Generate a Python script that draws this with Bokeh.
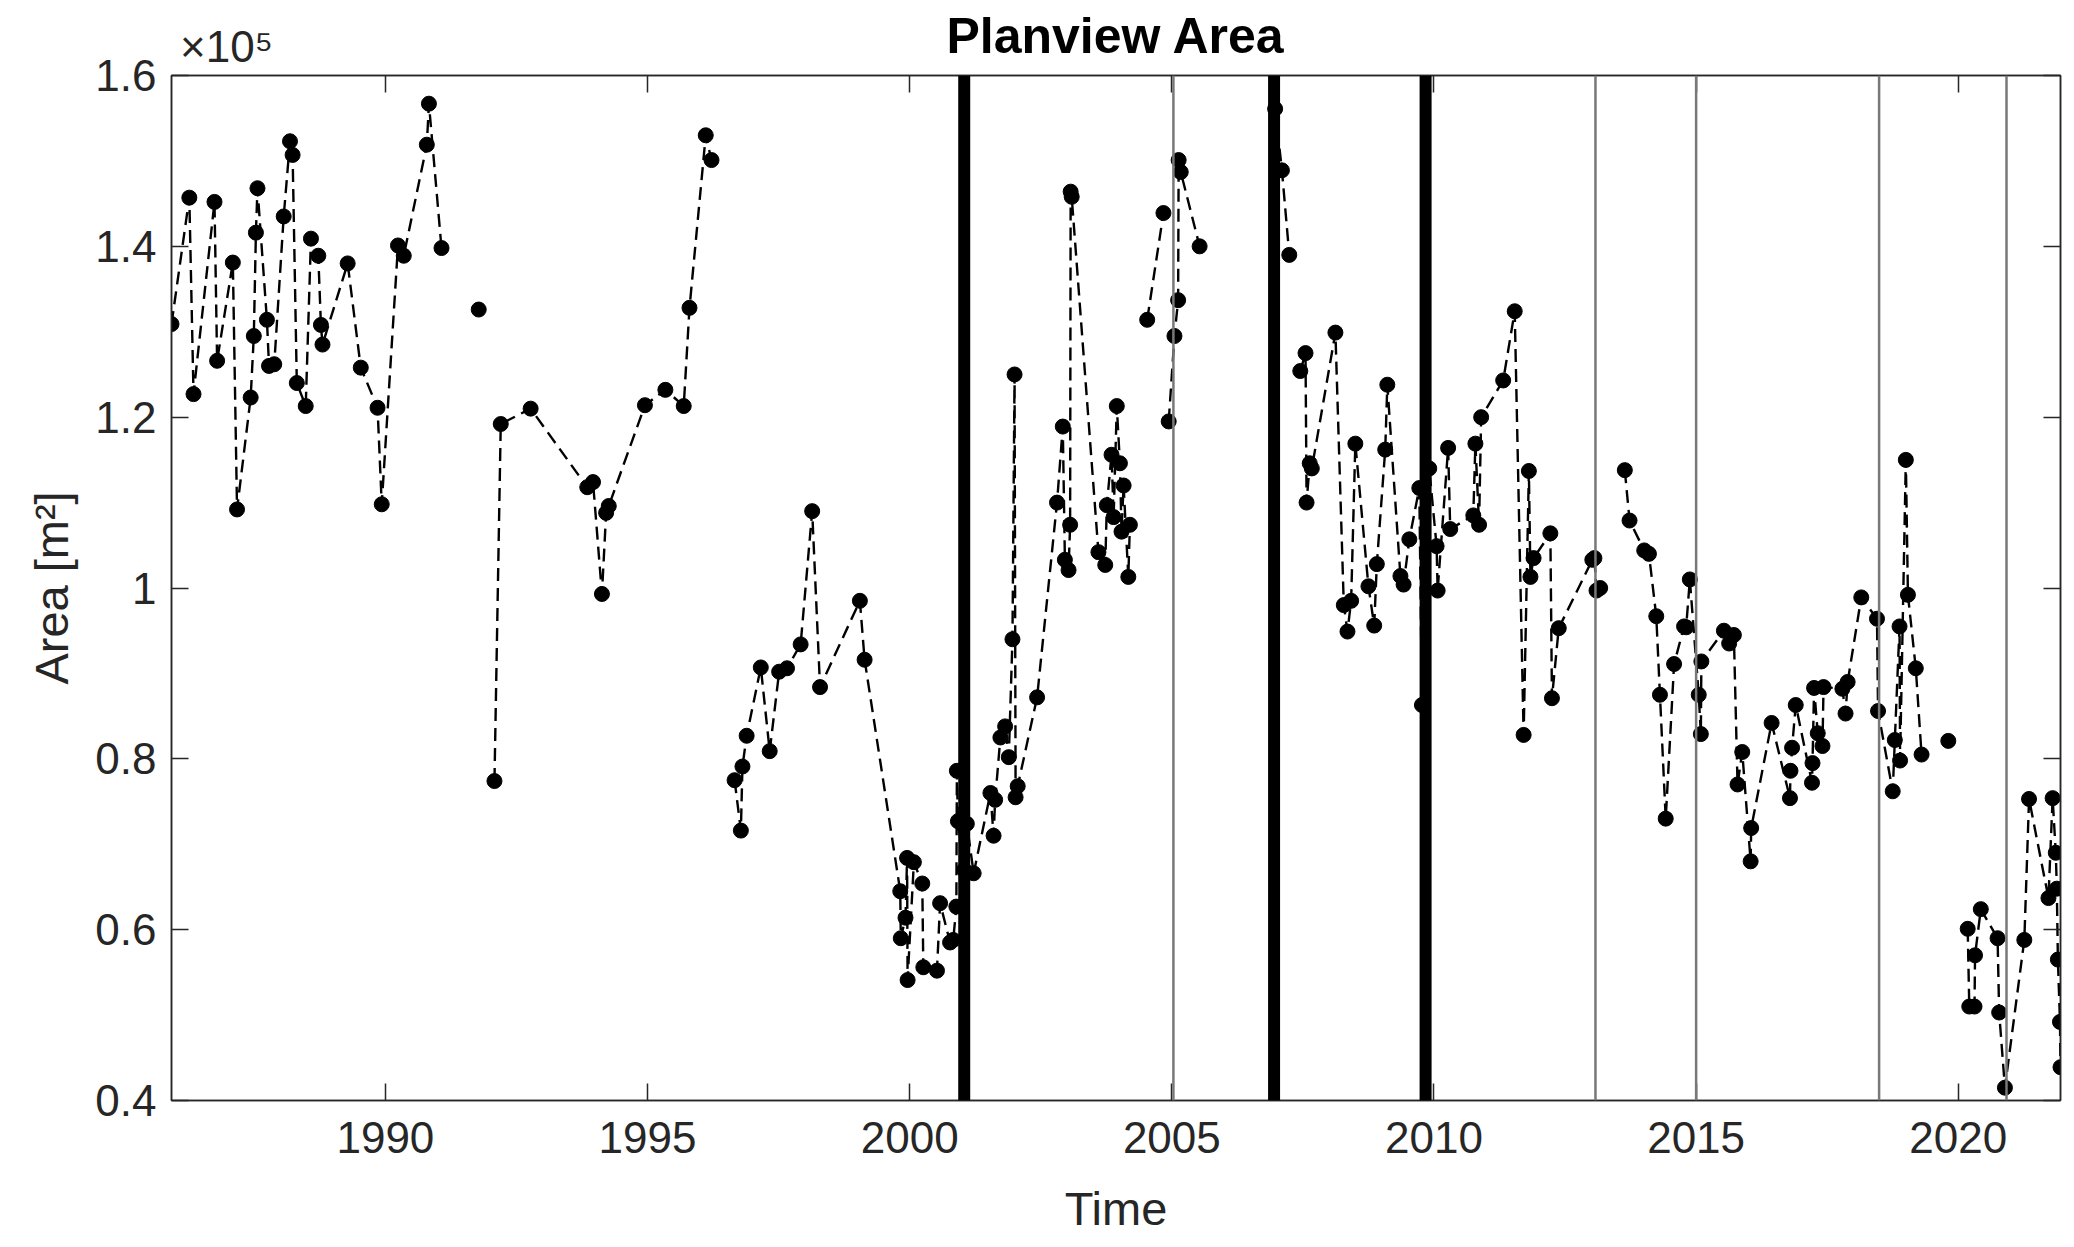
import math
from bokeh.plotting import figure
from bokeh.models import (Range1d, FixedTicker, LinearAxis, Span,
                          CustomJSTickFormatter)
from bokeh.embed import file_html
from bokeh.resources import INLINE

# ---------------- data ----------------
# survey time (decimal year) and planview area (x 1e5 m^2)
time = [
    1985.92, 1986.26, 1986.34, 1986.74, 1986.79, 1987.09, 1987.17, 1987.43, 1987.49, 1987.53,
    1987.56, 1987.74, 1987.78, 1987.88, 1988.06, 1988.18, 1988.23, 1988.31, 1988.48, 1988.58,
    1988.72, 1988.77, 1988.80, 1989.28, 1989.53, 1989.85, 1989.93, 1990.24, 1990.35, 1990.79,
    1990.83, 1991.07,
    1991.78,
    1992.08, 1992.20, 1992.77, 1993.85, 1993.96, 1994.13, 1994.21, 1994.26, 1994.95, 1995.34,
    1995.69, 1995.80, 1996.11, 1996.22,
    1996.66, 1996.78, 1996.81, 1996.89, 1997.16, 1997.33, 1997.51, 1997.66, 1997.92, 1998.14,
    1998.29, 1999.05, 1999.14, 1999.82, 1999.83, 1999.92, 1999.95, 1999.96, 2000.08, 2000.24,
    2000.26, 2000.52, 2000.58, 2000.77, 2000.83, 2000.89, 2000.90, 2000.92, 2001.04, 2001.09,
    2001.22, 2001.54, 2001.60, 2001.63, 2001.73, 2001.82, 2001.89, 2001.96, 2002.00, 2002.02,
    2002.06, 2002.43, 2002.81, 2002.92, 2002.96, 2003.03, 2003.06, 2003.07, 2003.09, 2003.60,
    2003.73, 2003.76, 2003.85, 2003.89, 2003.95, 2004.01, 2004.04, 2004.08, 2004.17, 2004.20,
    2004.53, 2004.84,
    2004.94, 2005.05, 2005.12, 2005.13, 2005.17, 2005.53,
    2006.97, 2007.10, 2007.24,
    2007.45, 2007.55, 2007.57, 2007.63, 2007.67, 2008.12, 2008.28, 2008.35, 2008.42, 2008.50,
    2008.75, 2008.86, 2008.91, 2009.07, 2009.11, 2009.36, 2009.42, 2009.53, 2009.72, 2009.77,
    2009.91, 2010.05, 2010.07, 2010.27, 2010.31, 2010.75, 2010.79, 2010.86, 2010.90, 2011.32,
    2011.54, 2011.71, 2011.81, 2011.84, 2011.90, 2012.22, 2012.25, 2012.38, 2013.02, 2013.06,
    2013.10, 2013.17,
    2013.64, 2013.73, 2014.01, 2014.10, 2014.24, 2014.31, 2014.42, 2014.58, 2014.77, 2014.81,
    2014.88, 2015.05, 2015.09, 2015.10, 2015.53, 2015.63, 2015.72, 2015.79, 2015.88, 2016.04,
    2016.05, 2016.44, 2016.79, 2016.80, 2016.83, 2016.90, 2017.21, 2017.22, 2017.25, 2017.32,
    2017.41, 2017.43, 2017.79, 2017.85, 2017.89, 2018.15, 2018.45, 2018.47, 2018.75, 2018.79,
    2018.88, 2018.89, 2019.00, 2019.04, 2019.19, 2019.30,
    2019.81,
    2020.18, 2020.21, 2020.31, 2020.32, 2020.43, 2020.75, 2020.78, 2020.89, 2021.26, 2021.35,
    2021.72, 2021.80, 2021.86, 2021.88, 2021.90, 2021.94, 2021.95,
]
area = [
    1.309, 1.457, 1.227, 1.452, 1.266, 1.381, 1.092, 1.223, 1.295, 1.416,
    1.468, 1.314, 1.260, 1.262, 1.435, 1.523, 1.507, 1.240, 1.213, 1.409,
    1.389, 1.308, 1.285, 1.380, 1.258, 1.211, 1.098, 1.401, 1.389, 1.519,
    1.567, 1.398,
    1.326,
    0.774, 1.192, 1.210, 1.118, 1.124, 0.993, 1.088, 1.096, 1.214, 1.232,
    1.213, 1.328, 1.530, 1.501,
    0.775, 0.716, 0.791, 0.827, 0.907, 0.809, 0.902, 0.906, 0.934, 1.090,
    0.884, 0.985, 0.916, 0.645, 0.590, 0.614, 0.684, 0.541, 0.679, 0.654,
    0.556, 0.552, 0.631, 0.585, 0.588, 0.627, 0.786, 0.727, 0.670, 0.724,
    0.666, 0.760, 0.710, 0.752, 0.825, 0.838, 0.802, 0.940, 1.250, 0.755,
    0.768, 0.872, 1.100, 1.189, 1.033, 1.021, 1.074, 1.464, 1.458, 1.042,
    1.027, 1.097, 1.156, 1.083, 1.213, 1.146, 1.066, 1.120, 1.013, 1.074,
    1.314, 1.439,
    1.195, 1.295, 1.337, 1.501, 1.487, 1.400,
    1.561, 1.489, 1.390,
    1.254, 1.275, 1.100, 1.146, 1.140, 1.299, 0.980, 0.949, 0.985, 1.169,
    1.002, 0.956, 1.028, 1.162, 1.238, 1.014, 1.004, 1.057, 1.117, 0.863,
    1.140, 1.049, 0.997, 1.164, 1.069, 1.085, 1.169, 1.074, 1.200, 1.243,
    1.324, 0.828, 1.137, 1.013, 1.035, 1.064, 0.871, 0.953, 1.033, 1.035,
    0.997, 1.000,
    1.138, 1.079, 1.044, 1.040, 0.967, 0.875, 0.730, 0.911, 0.955, 0.954,
    1.010, 0.875, 0.829, 0.914, 0.950, 0.935, 0.945, 0.770, 0.808, 0.680,
    0.719, 0.842, 0.754, 0.786, 0.813, 0.863, 0.772, 0.795, 0.883, 0.830,
    0.815, 0.884, 0.882, 0.853, 0.890, 0.989, 0.964, 0.856, 0.762, 0.822,
    0.955, 0.798, 1.150, 0.992, 0.906, 0.805,
    0.821,
    0.601, 0.510, 0.510, 0.570, 0.624, 0.590, 0.503, 0.415, 0.588, 0.753,
    0.637, 0.754, 0.690, 0.648, 0.565, 0.492, 0.439,
]
# times at which the dashed line is interrupted (a new run of surveys starts)
run_breaks = [1991.78, 1992.08, 1996.66, 2004.53, 2004.94, 2006.97, 2007.45,
              2013.64, 2019.81, 2020.18]

# event markers (vertical lines)
thick_events = [2001.04, 2006.95, 2009.84]
thin_events = [2005.03, 2013.08, 2015.00, 2018.49, 2020.92]

x_ticks = [1990, 1995, 2000, 2005, 2010, 2015, 2020]
y_ticks = [0.4, 0.6, 0.8, 1.0, 1.2, 1.4, 1.6]
exponent_text = "×10⁵"
exponent_pos = 1986.97          # centre of the exponent note above the y axis
title_text = "Planview Area"

# ---------------- build line runs ----------------
runs_x, runs_y = [], []
for t, a in zip(time, area):
    if not runs_x or t in run_breaks:
        runs_x.append([])
        runs_y.append([])
    runs_x[-1].append(t)
    runs_y[-1].append(a)

FONT = "Liberation Sans"
AX = "#262626"
W, H = 2074, 1247
BL, BR, BT, BB = 171, 14, 75, 147
TICK = 17  # px, inward tick length

x0, x1 = min(time), max(time)
y0, y1 = 0.4, 1.6

p = figure(width=W, height=H, output_backend="svg", toolbar_location=None,
           x_range=Range1d(x0, x1), y_range=Range1d(y0, y1),
           min_border_left=BL, min_border_right=BR, min_border_top=BT,
           min_border_bottom=BB, background_fill_color="white",
           border_fill_color="white")

p.title.text = ""
p.title.visible = False

p.xgrid.grid_line_color = None
p.ygrid.grid_line_color = None
p.outline_line_color = AX
p.outline_line_width = 1.5
p.outline_line_alpha = 1.0

p.multi_line(xs=runs_x, ys=runs_y, line_color="black", line_width=2.4,
             line_dash="13 7")
p.scatter(time, area, marker="circle", size=15, fill_color="black",
          line_color="black", line_width=1)

for yr in thin_events:
    p.add_layout(Span(location=yr, dimension="height", line_color="#787878",
                      line_width=2.5))
for yr in thick_events:
    p.add_layout(Span(location=yr, dimension="height", line_color="black",
                      line_width=12))

fmt = CustomJSTickFormatter(code="""
const s = tick.toFixed(1);
return s.endsWith('.0') ? s.slice(0, -2) : s;
""")


def style(ax, show_labels=True):
    ax.major_tick_in = TICK
    ax.major_tick_out = 0
    ax.minor_tick_line_color = None
    ax.axis_line_color = AX
    ax.axis_line_width = 1.5
    ax.major_tick_line_color = AX
    ax.major_tick_line_width = 1.5
    ax.major_label_text_color = AX
    ax.major_label_text_font = FONT
    if show_labels:
        ax.major_label_text_font_size = "44px"
    else:
        ax.major_label_text_font_size = "0px"
        ax.major_label_standoff = 0
    ax.axis_label_text_font = FONT
    ax.axis_label_text_font_size = "47px"
    ax.axis_label_text_font_style = "normal"
    ax.axis_label_text_color = AX


xa = p.xaxis[0]
xa.ticker = FixedTicker(ticks=x_ticks)
style(xa)
xa.major_label_standoff = 21
xa.axis_label = "Time"
xa.axis_label_standoff = 26

ya = p.yaxis[0]
ya.ticker = FixedTicker(ticks=y_ticks)
ya.formatter = fmt
style(ya)
ya.major_label_standoff = 15
ya.axis_label = "Area [m²]"
ya.axis_label_standoff = 14

# top and right edges of the box: inward ticks only
top = LinearAxis(ticker=FixedTicker(ticks=x_ticks))
style(top, False)
p.add_layout(top, "above")
right = LinearAxis(ticker=FixedTicker(ticks=y_ticks))
style(right, False)
p.add_layout(right, "right")

# second top axis: carries the exponent note (tick label) and the title (axis label)
note = LinearAxis(ticker=FixedTicker(ticks=[exponent_pos]))
note.major_tick_in = 0
note.major_tick_out = 0
note.minor_tick_line_color = None
note.axis_line_color = None
note.major_tick_line_color = None
note.major_label_overrides = {exponent_pos: exponent_text}
note.major_label_text_font = FONT
note.major_label_text_font_size = "44px"
note.major_label_text_color = AX
note.major_label_standoff = 5
note.axis_label = title_text
note.axis_label_text_font = FONT
note.axis_label_text_font_size = "50px"
note.axis_label_text_font_style = "bold"
note.axis_label_text_color = "black"
note.axis_label_standoff = -45
p.add_layout(note, "above")

open("out.html", "w").write(file_html(p, INLINE))
